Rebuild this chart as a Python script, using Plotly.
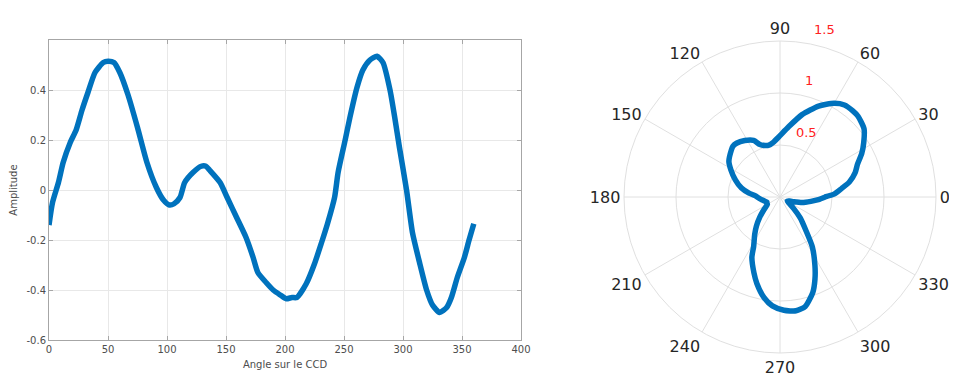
import plotly.graph_objects as go

angle_deg = [0, 3, 8, 12, 18, 23, 28, 33, 39, 46, 50, 55, 60, 67, 75, 83, 91, 97, 102,
             106, 111, 115, 122, 129, 133, 136, 145, 151, 159, 167, 173, 177, 184, 190,
             196, 201, 206, 210, 218, 225, 231, 236, 242, 245, 251, 255, 261, 266, 272,
             278, 283, 289, 293, 297, 303, 308, 314, 320, 325, 331, 337, 341, 346, 352,
             356, 360]
amplitude = [-0.14, -0.05, 0.03, 0.11, 0.19, 0.24, 0.32, 0.39, 0.47, 0.51, 0.515, 0.51,
             0.47, 0.38, 0.25, 0.11, 0.01, -0.04, -0.06, -0.055, -0.03, 0.03, 0.07, 0.095,
             0.095, 0.08, 0.03, -0.03, -0.11, -0.19, -0.27, -0.33, -0.37, -0.40, -0.42,
             -0.435, -0.43, -0.43, -0.375, -0.295, -0.21, -0.135, -0.03, 0.07, 0.20, 0.29,
             0.41, 0.48, 0.52, 0.535, 0.51, 0.40, 0.29, 0.17, 0.0, -0.17, -0.29, -0.40,
             -0.46, -0.49, -0.47, -0.43, -0.35, -0.27, -0.20, -0.135]

# Offset added to the amplitude for the polar representation
polar_offset = 0.57
polar_r = [a + polar_offset for a in amplitude]

x_ticks = [0, 50, 100, 150, 200, 250, 300, 350, 400]
y_ticks = [-0.6, -0.4, -0.2, 0, 0.2, 0.4]
y_tick_text = ["-0.6", "-0.4", "-0.2", "0", "0.2", "0.4"]
theta_ticks = list(range(0, 360, 30))
theta_tick_text = [str(t) for t in theta_ticks]
r_ticks = [0.5, 1, 1.5]
r_tick_text = ["0.5<br> <br> ", "1<br> <br> ", "1.5<br> <br> "]

BLUE = "#0072BD"
FONT = "DejaVu Sans"

fig = go.Figure()
fig.add_trace(go.Scatter(x=angle_deg, y=amplitude, mode="lines",
                         line=dict(color=BLUE, width=5.5, shape="spline", smoothing=0.6),
                         showlegend=False, xaxis="x", yaxis="y"))
fig.add_trace(go.Scatterpolar(r=polar_r, theta=angle_deg, mode="lines",
                              line=dict(color=BLUE, width=5.5, shape="spline",
                                        smoothing=0.6),
                              showlegend=False))

# page body has an 8px margin: figure is sized/placed accordingly
W, H = 949, 370
fig.update_layout(
    width=W, height=H,
    margin=dict(l=0, r=0, t=0, b=0, autoexpand=False),
    paper_bgcolor="white", plot_bgcolor="white",
    font=dict(family=FONT, color="#4d4d4d", size=10),
    xaxis=dict(domain=[41 / W, 513 / W], range=[0, 400], tickvals=x_ticks,
               automargin=False,
               showgrid=True, gridcolor="#e8e8e8", zeroline=False,
               showline=True, linecolor="#a6a6a6", mirror="ticks", ticks="inside",
               ticklen=4, tickcolor="#a6a6a6",
               title=dict(text="Angle sur le CCD", standoff=6, font=dict(size=10)),
               tickfont=dict(size=10)),
    yaxis=dict(domain=[38 / H, 338 / H], range=[-0.6, 0.6],
               tickvals=y_ticks, ticktext=y_tick_text, automargin=False,
               showgrid=True, gridcolor="#e8e8e8", zeroline=False,
               showline=True, linecolor="#a6a6a6", mirror="ticks", ticks="inside",
               ticklen=4, tickcolor="#a6a6a6",
               title=dict(text="Amplitude", standoff=12, font=dict(size=10)),
               tickfont=dict(size=10)),
    polar=dict(
        domain=dict(x=[616 / W, 928 / W], y=[25 / H, 337 / H]),
        bgcolor="white",
        radialaxis=dict(range=[0, 1.5], tickvals=r_ticks, ticktext=r_tick_text,
                        angle=80, tickangle=80, showline=False, ticks="",
                        gridcolor="#e0e0e0", tickfont=dict(color="#ff2020", size=13,
                                                           family=FONT)),
        angularaxis=dict(tickvals=theta_ticks, ticktext=theta_tick_text,
                         rotation=0, direction="counterclockwise",
                         gridcolor="#e0e0e0", showline=True, linecolor="#e0e0e0",
                         ticks="", tickfont=dict(size=16, color="#262626", family=FONT)),
    ),
)

fig.write_html("out.html")
